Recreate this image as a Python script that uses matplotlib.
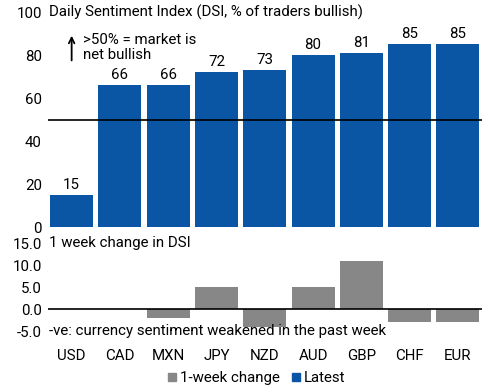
import matplotlib.pyplot as plt
from matplotlib.lines import Line2D

plt.rcParams['font.family'] = ['Roboto', 'DejaVu Sans']

currencies = ['USD', 'CAD', 'MXN', 'JPY', 'NZD', 'AUD', 'GBP', 'CHF', 'EUR']
latest = [15, 66, 66, 72, 73, 80, 81, 85, 85]
week_change = [0, 0, -2, 5, -4, 5, 11, -3, -3]

blue = '#0B56A4'
grey = '#878787'
fs = 10.8

fig = plt.figure(figsize=(5, 3.89), dpi=100)
ax1 = fig.add_axes([0.095, 0.416, 0.869, 0.553])
ax2 = fig.add_axes([0.095, 0.149, 0.869, 0.226])

x = list(range(len(currencies)))

# top panel: latest DSI
ax1.bar(x, latest, width=0.89, color=blue, zorder=2)
for xi, v in zip(x, latest):
    ax1.text(xi, v + 1.5, str(v), ha='center', va='bottom', fontsize=fs)
ax1.axhline(50, color='black', lw=1.2, zorder=3)
ax1.set_xlim(-0.5, len(currencies) - 0.5)
ax1.set_ylim(0, 100)
ax1.set_yticks([0, 20, 40, 60, 80, 100])
ax1.set_xticks([])
ax1.tick_params(axis='y', length=0, pad=4, labelsize=fs)
for s in ax1.spines.values():
    s.set_visible(False)
ax1.text(-0.47, 100, 'Daily Sentiment Index (DSI, % of traders bullish)',
         ha='left', va='center', fontsize=fs)
ax1.annotate('', xy=(0.0, 89), xytext=(0.0, 77.5),
             arrowprops=dict(arrowstyle='->', color='black', lw=1.3,
                             shrinkA=0, shrinkB=0))
ax1.text(0.24, 83.5, '>50% = market is\nnet bullish', ha='left', va='center',
         fontsize=fs, linespacing=1.05)

# bottom panel: 1-week change
ax2.bar(x, week_change, width=0.89, color=grey, zorder=2)
ax2.axhline(0, color='black', lw=1.2, zorder=3)
ax2.set_xlim(-0.5, len(currencies) - 0.5)
ax2.set_ylim(-5, 15)
ax2.set_yticks([-5, 0, 5, 10, 15])
ax2.set_yticklabels(['-5.0', '0.0', '5.0', '10.0', '15.0'])
ax2.set_xticks(x)
ax2.set_xticklabels(currencies)
ax2.tick_params(axis='y', length=0, pad=4, labelsize=fs)
ax2.tick_params(axis='x', length=0, pad=13, labelsize=fs)
for s in ax2.spines.values():
    s.set_visible(False)
ax2.text(-0.47, 15, '1 week change in DSI', ha='left', va='center', fontsize=fs)
ax2.text(-0.47, -5, '-ve: currency sentiment weakened in the past week',
         ha='left', va='center', fontsize=fs)

handles = [Line2D([], [], marker='s', ls='none', color=grey, markersize=6),
           Line2D([], [], marker='s', ls='none', color=blue, markersize=6)]
fig.legend(handles, ['1-week change', 'Latest'], loc='center',
           bbox_to_anchor=(0.51, 0.028), ncol=2, frameon=False, fontsize=fs,
           handletextpad=0.0, columnspacing=0.6, handlelength=1.0)

fig.savefig('out.png', dpi=100)
